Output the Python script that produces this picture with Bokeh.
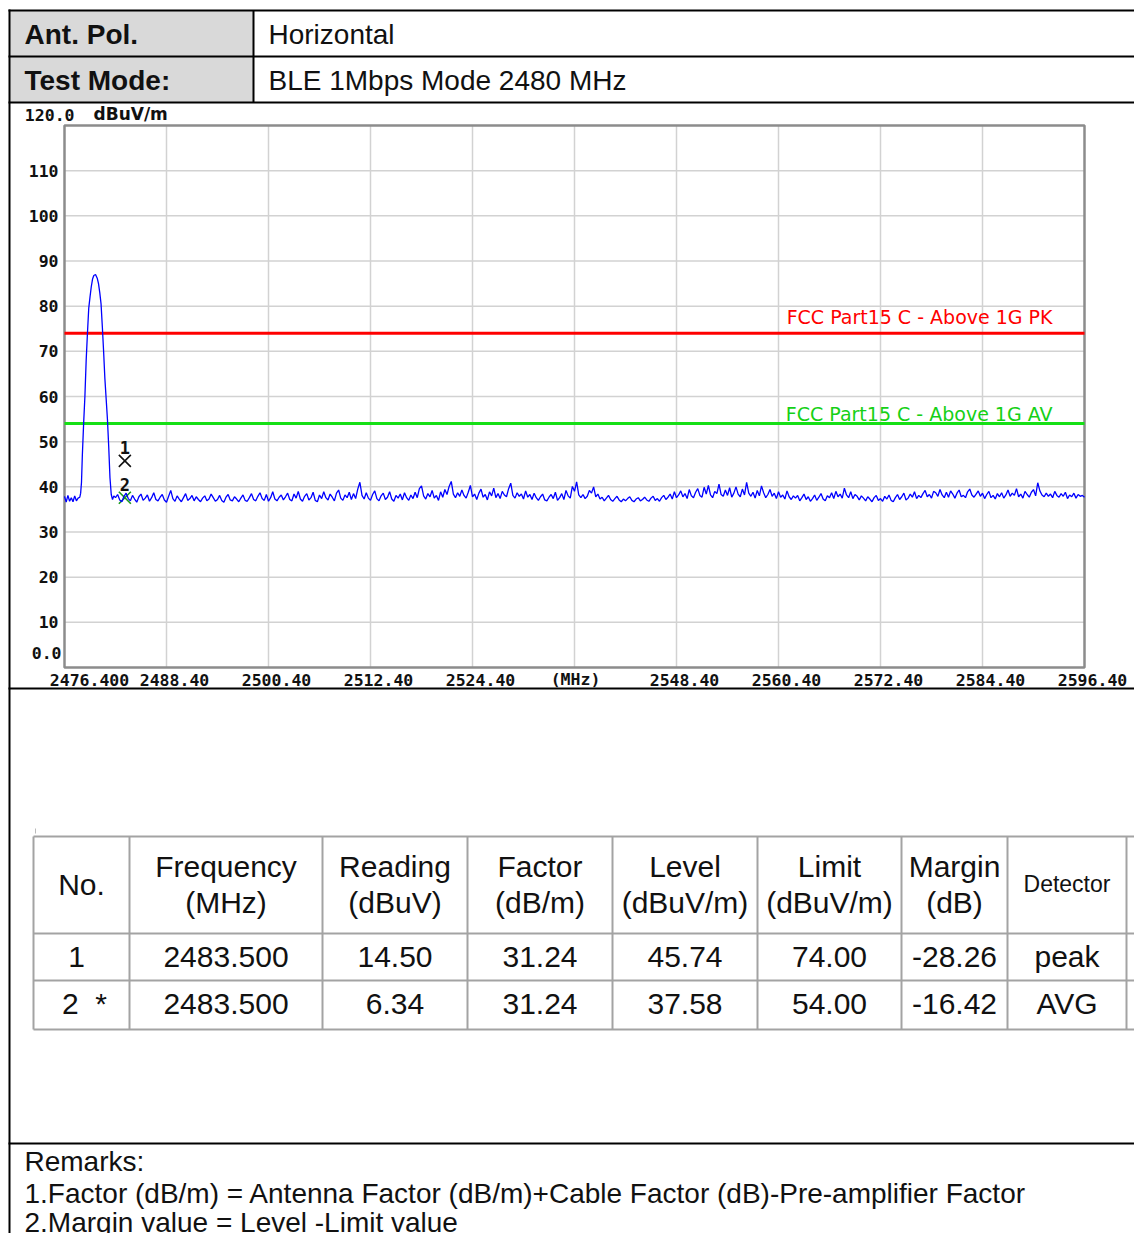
from bokeh.plotting import figure
from bokeh.models import Range1d
from bokeh.embed import file_html
from bokeh.resources import INLINE
from bokeh.core.properties import value

# ---------------- data ----------------
ant_pol = "Horizontal"
test_mode = "BLE 1Mbps Mode 2480 MHz"

x_ticks = [2476.4, 2488.4, 2500.4, 2512.4, 2524.4, 2536.4, 2548.4, 2560.4, 2572.4, 2584.4, 2596.4]
x_tick_labels = ["2476.400", "2488.40", "2500.40", "2512.40", "2524.40", "(MHz)",
                 "2548.40", "2560.40", "2572.40", "2584.40", "2596.40"]
y_ticks = [0, 10, 20, 30, 40, 50, 60, 70, 80, 90, 100, 110, 120]
y_tick_labels = ["0.0", "10", "20", "30", "40", "50", "60", "70", "80", "90", "100", "110", "120.0"]
y_unit = "dBuV/m"

limit_pk = 74.0
limit_av = 54.0
limit_pk_name = "FCC Part15 C - Above 1G PK"
limit_av_name = "FCC Part15 C - Above 1G AV"

# trace: carrier region (read point by point)
peak_freq = [2476.4, 2476.6, 2476.8, 2477.0, 2477.2, 2477.4, 2477.6, 2477.8, 2478.0, 2478.2,
             2478.3, 2478.4, 2478.5, 2478.65, 2478.8, 2478.95, 2479.1, 2479.25, 2479.4, 2479.55,
             2479.7, 2479.85, 2480.05, 2480.25, 2480.4, 2480.55, 2480.7, 2480.85, 2481.0, 2481.15,
             2481.3, 2481.45, 2481.6, 2481.75, 2481.9, 2482.05, 2482.2]
peak_level = [37.9, 36.6, 38.1, 36.8, 37.6, 36.7, 38.0, 36.9, 37.5, 37.7,
              38.6, 41.0, 47.0, 54.0, 60.0, 68.0, 74.0, 79.5, 82.0, 84.3,
              86.0, 86.8, 87.0, 86.2, 85.0, 83.0, 80.5, 75.5, 70.0, 64.0,
              59.5, 55.0, 49.0, 42.0, 38.3, 37.2, 38.0]

# trace: noise floor, one reading every 0.25 MHz from 2482.4 MHz
noise_start = 2482.4
noise_step = 0.25
noise_level = [
    37.6, 38.3, 37.1, 36.7, 37.9, 38.6, 37.4, 36.9, 38.1, 37.3, 36.6, 37.8, 38.4, 37.0, 37.5, 38.2, 36.8, 37.6, 38.7, 37.2,
    36.9, 37.7, 38.3, 37.1, 36.6, 37.9, 39.2, 37.4, 36.8, 38.0, 37.3, 36.7, 37.6, 38.5, 37.0, 37.4, 38.1, 36.9, 37.8, 37.2,
    36.7, 37.5, 38.0, 36.9, 37.3, 38.4, 37.6, 36.8, 37.2, 38.1, 37.0, 36.6, 37.7, 38.3, 37.1, 36.9, 37.8, 37.3, 36.7, 37.5,
    38.2, 37.0, 36.8, 37.6, 38.5, 37.2, 36.9, 37.9, 38.7, 37.4, 37.0, 38.3, 36.8, 37.6, 38.9, 37.3, 36.9, 37.7, 38.2, 37.1,
    37.8, 38.6, 37.2, 36.9, 38.4, 37.5, 39.0, 37.3, 36.8, 37.9, 38.5, 37.1, 37.6, 38.8, 37.0, 36.7, 38.2, 37.4, 38.9, 37.6,
    37.1, 38.4, 37.7, 36.9, 38.6, 39.3, 37.5, 37.0, 38.2, 37.6, 38.8, 37.2, 38.5, 37.4, 39.5, 41.0, 38.1, 37.3, 38.7, 37.5,
    37.0, 38.3, 39.1, 37.4, 36.9, 38.0, 38.6, 37.2, 37.7, 38.9, 37.3, 36.8, 38.1, 37.5, 38.4, 37.1, 38.7, 37.6, 37.0, 38.2,
    37.4, 38.8, 37.6, 39.6, 40.2, 38.0, 37.3, 38.5, 37.8, 39.2, 37.5, 38.1, 37.0, 38.9, 37.7, 39.4, 38.3, 40.1, 41.2, 38.4,
    37.6, 38.7, 37.9, 39.3, 38.1, 37.5, 38.8, 40.3, 37.8, 38.4, 37.2, 38.6, 39.5, 37.7, 38.3, 37.1, 38.9, 38.0, 39.7, 37.6,
    38.5, 37.4, 39.0, 38.2, 37.8, 39.6, 40.8, 38.1, 37.5, 38.7, 37.9, 38.4, 37.3, 39.1, 37.7, 38.3, 37.2, 38.6, 37.6, 37.0,
    37.8, 38.4, 37.1, 36.9, 37.7, 38.3, 37.4, 38.8, 37.0, 37.6, 38.5, 37.2, 39.2, 38.0, 37.5, 40.1, 39.0, 41.1, 38.2, 37.6,
    38.3, 37.4, 37.9, 39.2, 38.6, 40.0, 37.8, 38.4, 37.3, 37.7, 36.9, 37.5, 38.1, 37.2, 36.8, 37.4, 37.9, 37.1, 36.7, 37.3,
    36.9, 37.4, 37.8, 37.0, 36.7, 37.3, 37.6, 36.9, 37.2, 37.7, 37.1, 36.8, 37.5, 37.9, 37.0, 37.4, 36.8, 37.6, 38.1, 37.2,
    37.7, 38.4, 37.3, 38.9, 37.6, 38.2, 39.1, 37.8, 38.5, 37.4, 39.4, 38.0, 37.6, 38.8, 39.6, 38.1, 37.7, 39.9, 38.4, 40.3,
    38.2, 37.6, 39.0, 38.5, 40.6, 38.3, 37.9, 39.3, 38.1, 39.8, 37.7, 38.6, 40.0, 38.4, 37.8, 39.5, 38.2, 41.0, 38.6, 37.9,
    38.8, 37.5, 39.2, 38.0, 40.2, 38.7, 37.6, 38.3, 39.4, 37.9, 38.6, 37.4, 38.9, 37.7, 38.2, 37.3, 39.1, 37.8, 37.2, 38.0,
    37.5, 38.1, 36.9, 37.6, 38.4, 37.2, 37.8, 36.8, 37.4, 38.2, 37.0, 37.7, 38.5, 37.3, 36.9, 38.0, 37.6, 38.7, 37.4, 39.0,
    37.8, 38.4, 37.5, 39.7, 38.2, 37.6, 38.9, 37.4, 38.3, 37.9, 37.1, 38.0, 37.5, 36.9, 37.8, 37.3, 36.7, 37.6, 38.1, 37.0,
    37.4, 36.8, 37.9, 37.3, 38.2, 37.0, 36.7, 37.6, 38.3, 37.2, 37.8, 38.6, 37.1, 37.5, 38.4, 37.7, 38.9, 37.4, 38.1, 37.6,
    38.5, 39.2, 37.8, 38.3, 37.5, 39.0, 38.7, 37.9, 39.4, 38.2, 37.6, 38.8, 37.7, 39.1, 38.4, 37.5, 38.6, 39.3, 37.8, 38.1,
    37.6, 38.9, 39.5, 38.2, 37.7, 38.4, 39.1, 37.9, 38.6, 37.4, 38.3, 39.0, 37.6, 38.1, 37.3, 38.5, 37.8, 38.7, 37.5, 38.2,
    39.3, 37.9, 38.6, 38.1, 39.6, 37.8, 38.4, 37.5, 39.0, 38.3, 37.7, 38.8, 39.4, 38.0, 40.9, 39.1, 38.2, 37.8, 38.6, 37.9,
    38.4, 37.6, 39.0, 38.1, 37.7, 38.5, 37.9, 38.8, 37.4, 38.2, 37.8, 38.6, 37.5, 38.3, 37.9, 38.1, 37.7,
]

marker_no = ["1", "2"]
marker_freq = [2483.5, 2483.5]
marker_level = [45.74, 37.58]

# result table
col_heads_1 = ["No.", "Frequency", "Reading", "Factor", "Level", "Limit", "Margin", "Detector"]
col_heads_2 = ["", "(MHz)", "(dBuV)", "(dB/m)", "(dBuV/m)", "(dBuV/m)", "(dB)", ""]
tbl_no = ["1", "2\u00a0\u00a0*"]
tbl_freq = ["2483.500", "2483.500"]
tbl_reading = ["14.50", "6.34"]
tbl_factor = ["31.24", "31.24"]
tbl_level = ["45.74", "37.58"]
tbl_limit = ["74.00", "54.00"]
tbl_margin = ["-28.26", "-16.42"]
tbl_detector = ["peak", "AVG"]

remarks = ["Remarks:",
           "1.Factor (dB/m) = Antenna Factor (dB/m)+Cable Factor (dB)-Pre-amplifier Factor",
           "2.Margin value = Level -Limit value"]

# ---------------- page geometry (pixels) ----------------
W, H = 1134, 1233
PLOT_L, PLOT_R, PLOT_T, PLOT_B = 64, 1084, 125, 667      # spectrum plot area
ARIAL = value("Liberation Sans")
CHART_FONT = value("DejaVu Sans")
TICK_FONT = value("DejaVu Sans Mono")
TXT = "#111111"
TBL_LINE = "#a3a3a3"

p = figure(width=W, height=H, x_range=Range1d(0, W), y_range=Range1d(H, 0),
           output_backend="svg", toolbar_location=None, x_axis_location=None,
           y_axis_location=None, min_border=0, outline_line_color=None)
p.grid.visible = False

# data scales for the spectrum, mapped onto the plot area
dx = (x_ticks[-1] - x_ticks[0]) / (PLOT_R - PLOT_L)
dy = (y_ticks[-1] - y_ticks[0]) / (PLOT_B - PLOT_T)
p.extra_x_ranges = {"freq": Range1d(x_ticks[0] - PLOT_L * dx, x_ticks[-1] + (W - PLOT_R) * dx)}
p.extra_y_ranges = {"level": Range1d(y_ticks[0] - (H - PLOT_B) * dy, y_ticks[-1] + PLOT_T * dy)}
D = dict(x_range_name="freq", y_range_name="level")

# ---------------- header ----------------
p.quad(left=[9], right=[253], top=[10], bottom=[102], fill_color="#d9d9d9", line_color=None)
p.segment(x0=[8, 8, 8, 9, 253, 8, 8], y0=[10, 56, 102, 9, 10, 688, 1143],
          x1=[W, W, W, 9, 253, W, W], y1=[10, 56, 102, H, 102, 688, 1143],
          line_color="black", line_width=2)
p.text(x=[24, 24], y=[34, 80], text=["Ant. Pol.", "Test Mode:"], text_font=ARIAL,
       text_font_style="bold", text_font_size="28px", text_baseline="middle", text_color=TXT)
p.text(x=[268, 268], y=[34, 80], text=[ant_pol, test_mode], text_font=ARIAL,
       text_font_size="28px", text_baseline="middle", text_color=TXT)

# ---------------- spectrum ----------------
p.segment(x0=x_ticks[1:-1], y0=[y_ticks[0]] * 9, x1=x_ticks[1:-1], y1=[y_ticks[-1]] * 9,
          line_color="#d2d2d2", line_width=1.5, **D)
p.segment(x0=[x_ticks[0]] * 11, y0=y_ticks[1:-1], x1=[x_ticks[-1]] * 11, y1=y_ticks[1:-1],
          line_color="#d2d2d2", line_width=1.5, **D)
p.quad(left=[x_ticks[0]], right=[x_ticks[-1]], bottom=[y_ticks[0]], top=[y_ticks[-1]],
       fill_color=None, line_color="#8c8c8c", line_width=2.5, **D)

lab = dict(text_font=TICK_FONT, text_font_style="bold", text_font_size="16.5px",
           text_color=TXT, text_baseline="middle")
y_xoff = [-3] + [-6] * 11 + [10]
y_yoff = [-15] + [0] * 11 + [-11]
p.text(x=[x_ticks[0]] * len(y_ticks), y=y_ticks, text=y_tick_labels, x_offset=y_xoff,
       y_offset=y_yoff, text_align="right", **lab, **D)
p.text(x=[x_ticks[0]], y=[y_ticks[-1]], text=[y_unit], x_offset=29, y_offset=-12,
       text_align="left", text_font=CHART_FONT, text_font_style="bold", text_font_size="17px",
       text_color=TXT, text_baseline="middle", **D)
x_xoff = [25 if i == 0 else (1 if s == "(MHz)" else 8) for i, s in enumerate(x_tick_labels)]
p.text(x=x_ticks, y=[y_ticks[0]] * len(x_ticks), text=x_tick_labels, x_offset=x_xoff,
       y_offset=12, text_align="center", **lab, **D)

# limit lines
p.line(x=[x_ticks[0], x_ticks[-1]], y=[limit_pk, limit_pk], line_color="#ff0000", line_width=3, **D)
p.line(x=[x_ticks[0], x_ticks[-1]], y=[limit_av, limit_av], line_color="#16e016", line_width=3, **D)
p.text(x=[x_ticks[-1]], y=[limit_pk], text=[limit_pk_name], x_offset=-32, y_offset=-16,
       text_align="right", text_baseline="middle", text_font=CHART_FONT,
       text_font_size="19px", text_color="#ff0000", **D)
p.text(x=[x_ticks[-1]], y=[limit_av], text=[limit_av_name], x_offset=-32, y_offset=-10,
       text_align="right", text_baseline="middle", text_font=CHART_FONT,
       text_font_size="19px", text_color="#16d016", **D)

# marker 2 under the trace
p.scatter(x=[marker_freq[1]], y=[marker_level[1]], marker="x", size=17, line_color="#1a9a1a",
          line_width=1.6, **D)

trace_freq = peak_freq + [noise_start + noise_step * i for i in range(len(noise_level))]
trace_level = peak_level + noise_level
p.line(x=trace_freq, y=trace_level, line_color="#0000ff", line_width=1.3, **D)

p.scatter(x=[marker_freq[0]], y=[marker_level[0]], marker="x", size=17, line_color="#111111",
          line_width=1.6, **D)
p.text(x=marker_freq, y=marker_level, text=marker_no, y_offset=-13, text_align="center",
       text_baseline="middle", text_font=TICK_FONT, text_font_style="bold",
       text_font_size="17px", text_color=TXT, **D)

# ---------------- result table ----------------
p.segment(x0=[35], y0=[828], x1=[35], y1=[833], line_color="#bbbbbb", line_width=1)
col_edges = [33, 129, 322, 467, 612, 757, 901, 1007, 1126]
row_edges = [836, 933, 980, 1029]
p.segment(x0=[col_edges[0]] * len(row_edges), y0=row_edges, x1=[W] * len(row_edges),
          y1=row_edges, line_color=TBL_LINE, line_width=2)
p.segment(x0=col_edges, y0=[row_edges[0]] * len(col_edges), x1=col_edges,
          y1=[row_edges[-1]] * len(col_edges), line_color=TBL_LINE, line_width=2)

centers = [(a + b) / 2 for a, b in zip(col_edges[:-1], col_edges[1:])]
tstyle = dict(text_font=ARIAL, text_align="center", text_baseline="middle", text_color=TXT)
p.text(x=centers[1:7], y=[866] * 6, text=col_heads_1[1:7], text_font_size="30px", **tstyle)
p.text(x=centers[1:7], y=[902] * 6, text=col_heads_2[1:7], text_font_size="30px", **tstyle)
p.text(x=[centers[0]], y=[884], text=[col_heads_1[0]], text_font_size="30px", **tstyle)
p.text(x=[centers[7]], y=[883], text=[col_heads_1[7]], text_font_size="23px", **tstyle)
cols = [tbl_no, tbl_freq, tbl_reading, tbl_factor, tbl_level, tbl_limit, tbl_margin, tbl_detector]
row_y = [956, 1003]
for ci, colvals in enumerate(cols):
    if ci == 0:
        xs = [centers[0] - 5, centers[0] + 3]
    else:
        xs = [centers[ci]] * len(colvals)
    p.text(x=xs, y=row_y, text=colvals, text_font_size="30px", **tstyle)

# ---------------- remarks ----------------
p.text(x=[24] * 3, y=[1161, 1193, 1222], text=remarks, text_font=ARIAL, text_font_size="28px",
       text_baseline="middle", text_color=TXT)

open("out.html", "w").write(file_html(p, INLINE))
